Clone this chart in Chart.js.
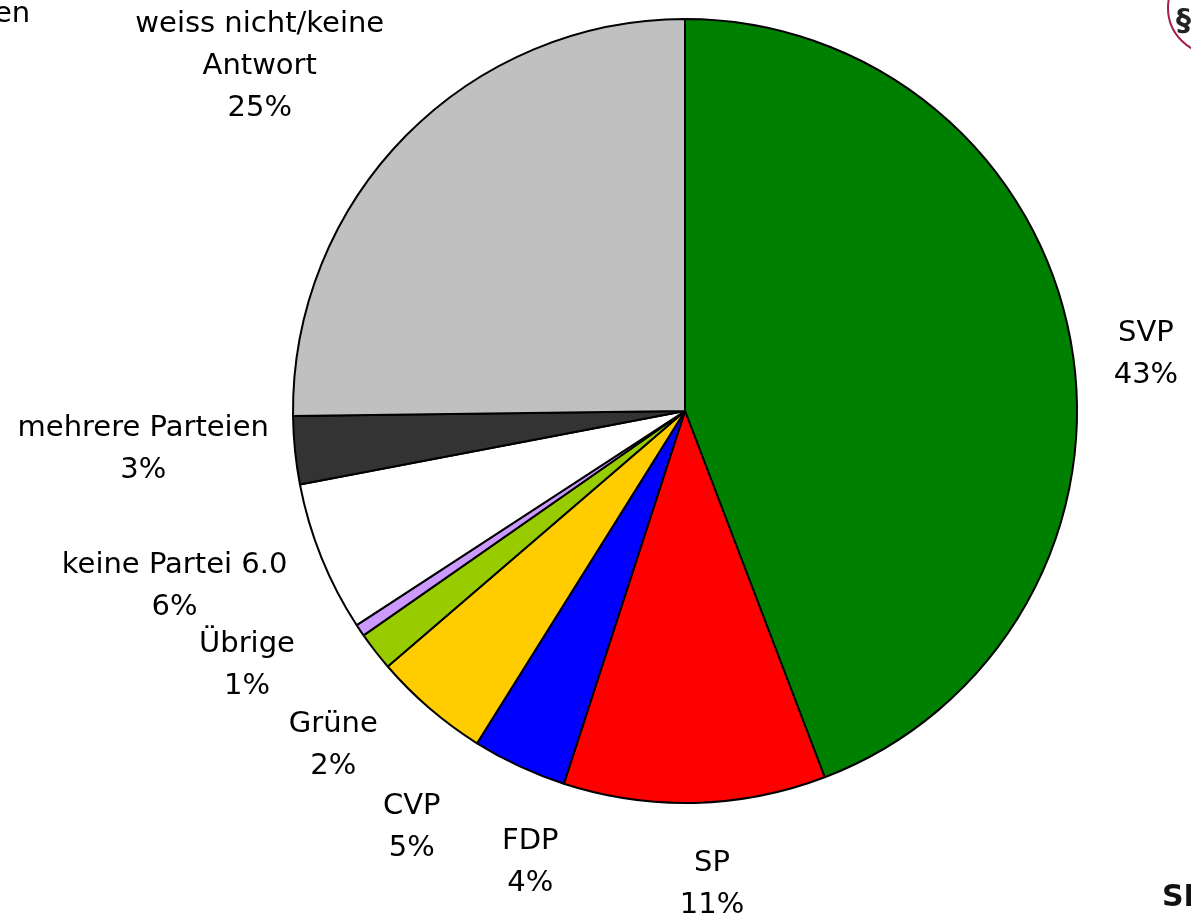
<!DOCTYPE html>
<html>
<head>
<meta charset="utf-8">
<script src="https://cdn.jsdelivr.net/npm/chart.js@4.4.0/dist/chart.umd.min.js"></script>
<style>
  html, body { margin: 0; padding: 0; background: #fff; }
  #wrap { width: 1191px; height: 921px; position: relative; overflow: hidden; }
</style>
</head>
<body>
<div id="wrap"><canvas id="pieChart" width="1191" height="921"></canvas></div>
<script>
// Parteien (Uhrzeigersinn ab 12 Uhr)
const parteien = ['SVP', 'SP', 'FDP', 'CVP', 'Grüne', 'Übrige', 'keine Partei 6.0', 'mehrere Parteien', 'weiss nicht/keine Antwort'];
// Labelzeilen wie im Original umbrochen
const labelZeilen = [['SVP'], ['SP'], ['FDP'], ['CVP'], ['Grüne'], ['Übrige'], ['keine Partei 6.0'], ['mehrere Parteien'], ['weiss nicht/keine', 'Antwort']];
const anteile = [44.2, 10.8, 3.9, 4.8, 1.6, 0.5, 6.2, 2.8, 25.2];
// Prozentangaben wie gedruckt
const prozentText = ['43%', '11%', '4%', '5%', '2%', '1%', '6%', '3%', '25%'];
const farben = ['#008000', '#ff0000', '#0000ff', '#ffcc00', '#99cc00', '#cc99ff', '#ffffff', '#333333', '#c0c0c0'];

const FONT = '29px "DejaVu Sans", Tahoma, sans-serif';
const LINE_H = 42;
const GAP = 28;
// Verschiebung der Labels gegen Überlappung: [Winkel in Grad, radial px]
const labelNudge = [[3.6, 12], [-1.9, 12], [-5.6, 17], [-6.7, 40], [-5.9, 22], [3.6, 40], [0.4, 16], [1.0, -2], [-2.4, 30]];

// Beschriftungen ausserhalb der Sektoren
const labelPlugin = {
    id: 'aussenLabels',
    afterDatasetsDraw(chart) {
        const ctx = chart.ctx;
        const meta = chart.getDatasetMeta(0);
        ctx.save();
        ctx.font = FONT;
        ctx.fillStyle = '#000';
        ctx.textAlign = 'center';
        ctx.textBaseline = 'middle';
        meta.data.forEach((arc, i) => {
            const p = arc.getProps(['x', 'y', 'startAngle', 'endAngle', 'outerRadius'], true);
            const mid = (p.startAngle + p.endAngle) / 2 + labelNudge[i][0] * Math.PI / 180;
            const dx = Math.cos(mid), dy = Math.sin(mid);
            const lines = labelZeilen[i].concat([prozentText[i]]);
            const w = Math.max(...lines.map(l => ctx.measureText(l).width));
            const h = lines.length * LINE_H;
            const r = p.outerRadius + GAP + labelNudge[i][1];
            const cx = p.x + dx * r + dx * w / 2;
            const cy = p.y + dy * r + dy * h / 2;
            lines.forEach((l, k) => {
                ctx.fillText(l, cx, cy - h / 2 + LINE_H / 2 + k * LINE_H);
            });
        });
        ctx.restore();
    },
    afterDraw(chart) {
        const ctx = chart.ctx;
        ctx.save();
        // abgeschnittener Text oben links
        ctx.font = FONT;
        ctx.fillStyle = '#000';
        ctx.textBaseline = 'middle';
        ctx.textAlign = 'left';
        ctx.fillText('en', -6, 14);
        // Logo-Rest oben rechts
        ctx.strokeStyle = '#a0204a';
        ctx.lineWidth = 2;
        ctx.beginPath();
        ctx.arc(1214, 8, 46, 0, Math.PI * 2);
        ctx.stroke();
        ctx.fillStyle = '#222';
        ctx.font = 'bold 30px "DejaVu Sans", sans-serif';
        ctx.fillText('§', 1176, 22);
        // Logo-Rest unten rechts
        ctx.font = 'bold 30px "DejaVu Sans", sans-serif';
        ctx.fillStyle = '#111';
        ctx.fillText('SI', 1162, 898);
        ctx.restore();
    }
};

new Chart(document.getElementById('pieChart').getContext('2d'), {
    type: 'pie',
    data: {
        labels: parteien,
        datasets: [{
            data: anteile,
            backgroundColor: farben,
            borderColor: '#000',
            borderWidth: 2
        }]
    },
    options: {
        responsive: false,
        animation: false,
        layout: { padding: { left: 292, right: 113, top: 18, bottom: 117 } },
        plugins: {
            legend: { display: false },
            tooltip: { enabled: false }
        }
    },
    plugins: [labelPlugin]
});
</script>
</body>
</html>
